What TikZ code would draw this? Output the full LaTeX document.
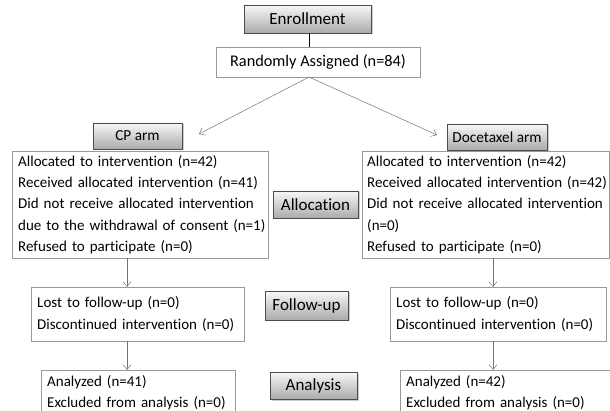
\documentclass[tikz,border=0pt]{standalone}
\usepackage{fontspec}
\setmainfont{Carlito}[Ligatures=NoCommon]
\usetikzlibrary{arrows.meta,shadows}
\begin{document}
\begin{tikzpicture}[x=1pt,y=-1pt,
 every node/.style={font=\fontsize{15}{21.3}\selectfont},
 graybox/.style={draw=black!70, top color=black!3, bottom color=black!33, drop shadow={shadow xshift=1.5pt,shadow yshift=-1.5pt,fill=black!40}, inner sep=0pt, font=\fontsize{17}{20}\selectfont},
 armbox/.style={graybox, font=\fontsize{15.3}{18}\selectfont},
 textbox/.style={draw=black!40, fill=white, anchor=north west, align=left, inner xsep=6pt, inner ysep=0pt},
 arr/.style={draw=black!55, line width=0.5pt, -{Straight Barb[length=5pt,width=8pt,line width=0.5pt]}}]
\useasboundingbox (0,0) rectangle (610,411);
\clip (0,0) rectangle (610,411);
% header and stage boxes
\node[graybox, minimum width=127pt, minimum height=28pt] (enr) at (307.5,19) {Enrollment};
\node[draw=black!40, fill=white, minimum width=204pt, minimum height=30pt, inner sep=0pt, font=\fontsize{16.3}{19}\selectfont] (rand) at (318,62) {Randomly Assigned (n=84)};
\node[armbox, minimum width=89pt, minimum height=26pt] (cp) at (137.5,136) {CP arm};
\node[armbox, minimum width=100pt, minimum height=26pt] (doc) at (497,137) {Docetaxel arm};
\node[graybox, minimum width=85pt, minimum height=27pt] (alloc) at (315.5,204.5) {Allocation};
\node[graybox, minimum width=83pt, minimum height=29pt] (fol) at (306.5,305.5) {Follow-up};
\node[graybox, minimum width=87pt, minimum height=27pt] (ana) at (313.5,385.5) {Analysis};
% text boxes
\node[textbox, text width=244pt, minimum height=107pt] (lbox) at (12,151) {\mbox{Allocated to intervention (n=42)}\\\mbox{Received allocated intervention (n=41)}\\\mbox{Did not receive allocated intervention}\\\mbox{due to the withdrawal of consent (n=1)}\\\mbox{Refused to participate (n=0)}};
\node[textbox, inner xsep=5pt, text width=237pt, minimum height=107pt] (rbox) at (362,151) {\mbox{Allocated to intervention (n=42)}\\\mbox{Received allocated intervention (n=42)}\\\mbox{Did not receive allocated intervention}\\(n=0)\\\mbox{Refused to participate (n=0)}};
\node[textbox, text width=201pt, minimum height=54pt] (lost1) at (31,287) {\mbox{Lost to follow-up (n=0)}\\\mbox{Discontinued intervention (n=0)}};
\node[textbox, text width=204pt, minimum height=54pt] (lost2) at (390,287) {\mbox{Lost to follow-up (n=0)}\\\mbox{Discontinued intervention (n=0)}};
\node[textbox, text width=182pt, minimum height=45pt] (an1) at (41,370) {\mbox{Analyzed (n=41)}\\\mbox{Excluded from analysis (n=0)}};
\node[textbox, text width=200pt, minimum height=45pt] (an2) at (400,370) {\mbox{Analyzed (n=42)}\\\mbox{Excluded from analysis (n=0)}};
% connectors
\coordinate (apex) at (309,77);
\coordinate (cptip) at (199,134);
\coordinate (doctip) at (437,135);
\coordinate (lx) at (127,0);
\coordinate (rx) at (493,0);
\draw[black, line width=0.6pt] (enr.south -| apex) -- (rand.north -| apex);
\draw[arr] (apex) -- (cptip);
\draw[arr] (apex) -- (doctip);
\draw[arr] (lbox.south -| lx) -- (lost1.north -| lx);
\draw[arr] (rbox.south -| rx) -- (lost2.north -| rx);
\draw[arr] (lost1.south -| lx) -- (an1.north -| lx);
\draw[arr] (lost2.south -| rx) -- (an2.north -| rx);
\end{tikzpicture}
\end{document}
